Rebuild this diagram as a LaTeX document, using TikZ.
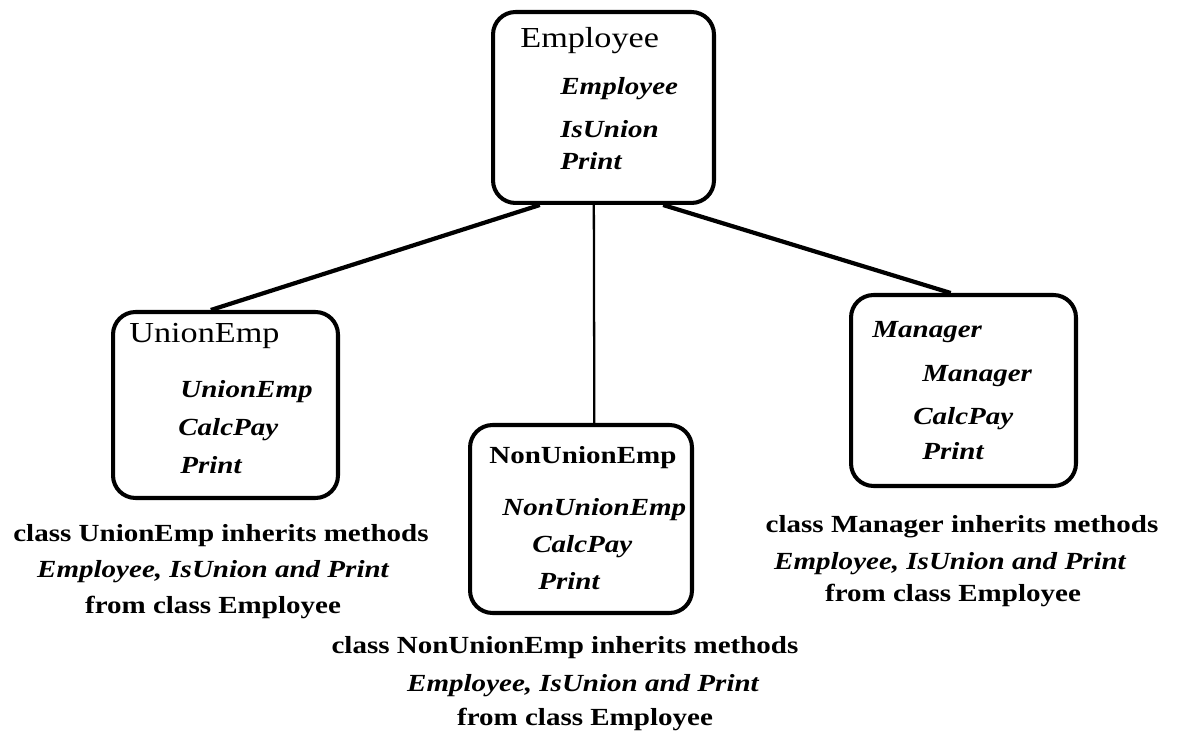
\documentclass[tikz,border=0pt]{standalone}
\usepackage{fontspec}
\setmainfont{Liberation Serif}[FakeStretch=1.18]
\usetikzlibrary{calc}
\begin{document}
\begin{tikzpicture}[x=0.02cm,y=-0.02cm,
  classbox/.style={draw, line width=2.3pt, rounded corners=0.45cm, inner sep=0pt},
  boxtitle/.style={anchor=base west, inner sep=0pt, font=\fontsize{16.5}{19}\selectfont},
  boldtitle/.style={anchor=base west, inner sep=0pt, font=\fontsize{14}{17}\selectfont\bfseries},
  method/.style={anchor=base west, inner sep=0pt, font=\fontsize{14}{17}\selectfont\bfseries\itshape},
  note/.style={anchor=base, inner sep=0pt, font=\fontsize{14}{17}\selectfont\bfseries},
  noteit/.style={note, font=\fontsize{14}{17}\selectfont\bfseries\itshape},
  link/.style={line width=2.4pt},
  thinlink/.style={line width=1.3pt}]
\useasboundingbox (0,0) rectangle (1179,732);

% class boxes
\node[classbox, minimum width=4.42cm, minimum height=3.82cm] (emp) at (603.5,107.5) {};
\node[classbox, minimum width=4.50cm, minimum height=3.72cm] (union) at (225.5,405) {};
\node[classbox, minimum width=4.44cm, minimum height=3.76cm] (nonunion) at (581,519) {};
\node[classbox, minimum width=4.50cm, minimum height=3.82cm] (manager) at (963.5,390.5) {};

% Employee
\node[boxtitle] (empT) at (520,48) {Employee};
\node[method] (empM1) at (560,95) {Employee};
\node[method] (empM2) at (560,138) {IsUnion};
\node[method] (empM3) at (560,170) {Print};

% UnionEmp
\node[boxtitle] (unionT) at (129,343) {UnionEmp};
\node[method] (unionM1) at (180,398) {UnionEmp};
\node[method] (unionM2) at (178,436) {CalcPay};
\node[method] (unionM3) at (180,474) {Print};

% NonUnionEmp
\node[boldtitle] (nonunionT) at (489,464) {NonUnionEmp};
\node[method] (nonunionM1) at (502,516) {NonUnionEmp};
\node[method] (nonunionM2) at (532,553) {CalcPay};
\node[method] (nonunionM3) at (538,589) {Print};

% Manager
\node[method] (managerT) at (872,338) {Manager};
\node[method] (managerM1) at (922,382) {Manager};
\node[method] (managerM2) at (913,425) {CalcPay};
\node[method] (managerM3) at (922,460) {Print};

% inheritance notes
\node[note] (unionC1) at (221,541) {class UnionEmp inherits methods};
\node[noteit] (unionC2) at (213,578) {Employee, IsUnion and Print};
\node[note] (unionC3) at (213,613) {from class Employee};

\node[note] (nonunionC1) at (565,653) {class NonUnionEmp inherits methods};
\node[noteit] (nonunionC2) at (583,691) {Employee, IsUnion and Print};
\node[note] (nonunionC3) at (585,725) {from class Employee};

\node[note] (managerC1) at (962,533) {class Manager inherits methods};
\node[noteit] (managerC2) at (950,569) {Employee, IsUnion and Print};
\node[note] (managerC3) at (953,601) {from class Employee};

% connectors
\draw[link] ($(emp.south west)!0.217!(emp.south east)$) -- ($(union.north west)!0.436!(union.north east)$);
\draw[thinlink] ($(emp.south west)!0.457!(emp.south east)$) -- ($(nonunion.north west)!0.559!(nonunion.north east)$);
\draw[link] ($(emp.south west)!0.765!(emp.south east)$) -- ($(manager.north west)!0.444!(manager.north east)$);
\end{tikzpicture}
\end{document}
